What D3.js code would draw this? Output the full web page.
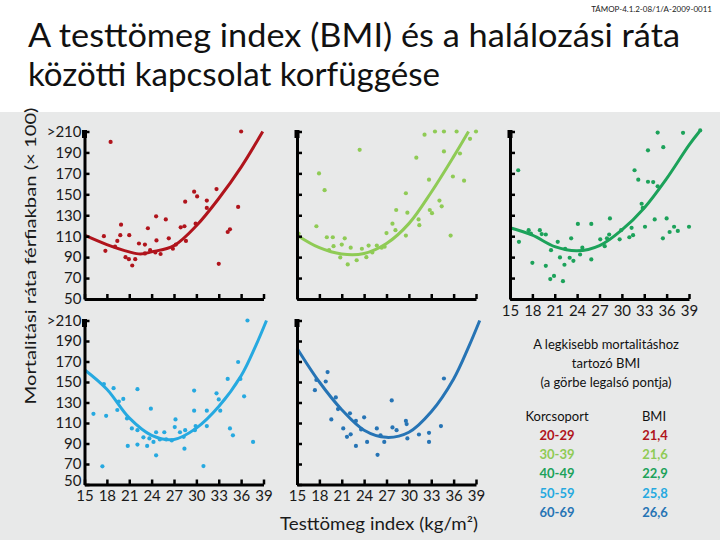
<!DOCTYPE html>
<html>
  <head>
    <meta charset="utf-8">
    <script src="https://d3js.org/d3.v7.min.js"></script>
    <title>BMI és halálozási ráta</title>
    <style>
      body { margin: 0; background: #fff; }
      svg text { font-family: Lato, "Open Sans", sans-serif; }
      .axis .domain { stroke: #000; stroke-width: 3; }
      .axis .tick line { stroke: #000; stroke-width: 2.5; }
      .axis .tick text { font-size: 15px; fill: #1a1a1a; }
    </style>
  </head>
  <body>
    <svg width="720" height="540"></svg>
    <script>
      // age groups and the BMI at the lowest point of each curve
      const groups = ['20-29', '30-39', '40-49', '50-59', '60-69'];
      const minBmi = ['21,4', '21,6', '22,9', '25,8', '26,6'];
      const colors = ['#b0141c', '#8fcb55', '#1ca25a', '#26a9e0', '#2674b5'];

      const xTicks = [15, 18, 21, 24, 27, 30, 33, 36, 39];
      const yTicks = [50, 70, 90, 110, 130, 150, 170, 190, 210];
      const yTickLabels = ['50', '70', '90', '110', '130', '150', '170', '190', '>210'];

      // scatter points [BMI, mortality] (>210 shown at 210)
      const pts2029 = [[18.5,200],[36.0,210],[17.6,110],[17.8,96],[19.1,100],[19.4,105.5],[19.8,111],[19.9,121],
        [20.5,90],[21.0,111],[20.95,88],[21.4,82],[21.8,88],[22.3,103],[23.1,102],[23.1,93.5],[23.5,117.6],
        [23.8,96.6],[24.6,129],[24.65,106],[24.5,94.5],[25.2,93],[25.9,126],[26.3,108],[26.85,98],[27.25,102],
        [27.9,118.5],[28.4,119.5],[28.5,143],[28.6,105.5],[29.7,152.5],[30.1,148],[29.9,122],[31.4,144],
        [31.4,137],[32.7,155],[33.0,83.6],[34.2,114],[34.5,116.6],[35.6,138]];
      const pts3039 = [[17.95,170],[18.7,154],[17.6,119.5],[23.4,192.5],[19.0,109],[19.8,109],[19.9,100.5],
        [19.3,96.6],[21.0,102],[21.4,108],[20.8,89.7],[21.8,83],[22.2,99],[23.0,87],[23.7,98],[24.3,90],
        [24.6,101],[25.1,94.5],[25.7,101],[26.35,99],[26.75,100],[27.0,113],[27.8,122],[28.3,135],[28.2,115.7],
        [29.6,110.6],[29.6,151],[29.8,132.5],[31.0,185],[31.3,126],[31.4,120.5],[32.1,207],[32.7,164],
        [32.8,135],[33.1,132],[33.5,210],[34.1,144],[34.4,138.5],[34.7,210],[34.7,191],[35.6,110.6],
        [35.9,167],[36.4,210],[36.85,189],[37.4,163],[38.2,203],[39.0,210],[15.2,112.5]];
      const pts4049 = [[16.1,173],[16.2,104.6],[17.5,115.7],[17.8,112.5],[18.0,84.6],[19.0,115.7],[19.25,112],
        [19.8,111.6],[19.8,81.7],[20.4,69],[20.9,72],[20.5,96.6],[21.4,104.6],[21.7,89.7],[22.1,67],[22.3,82.7],
        [22.4,98],[23.0,89.4],[23.2,108],[23.5,86.5],[24.1,121.7],[24.4,92.5],[24.7,99],[25.9,121.7],[25.9,87.8],
        [27.1,107],[27.7,100.5],[28.0,108],[28.3,111.6],[28.4,127],[29.7,107],[29.9,115.7],[31.0,109],[31.3,118],
        [31.5,111],[31.7,173],[32.2,164],[32.65,141],[32.8,137],[33.1,119],[33.5,192],[33.5,162],[34.2,161.7],
        [34.4,126],[34.8,157.6],[34.8,209],[35.5,108],[35.55,195],[36.0,127],[36.4,114],[37.0,119],[37.5,115],
        [38.2,208.7],[39.0,119],[40.5,211]];
      const pts5059 = [[36.85,210],[16.2,119],[17.6,148],[17.9,117],[17.4,67.7],[18.9,144],[19.6,131],[19.4,122.7],
        [20.2,133.5],[20.7,114.5],[20.8,87.6],[21.35,104.7],[22.1,143],[22.1,89],[22.1,103],[22.9,96],[23.4,87.6],
        [23.9,124],[23.7,95],[24.25,91.5],[24.6,101],[24.6,78.5],[25.1,94],[25.7,101],[25.95,94],[26.7,93],
        [27.2,113.5],[27.1,106],[27.8,101],[28.3,96.5],[28.4,85],[28.5,103],[29.7,122],[29.7,141.6],[29.8,103],
        [29.9,107],[30.95,68],[31.4,122],[31.4,107],[32.7,139],[33.0,133],[33.2,122],[34.2,153],[34.5,104.7],
        [34.9,98],[35.6,169.5],[35.9,153],[36.4,136],[37.6,91.5]];
      const pts6069 = [[17.4,142],[17.6,152],[18.85,150.5],[19.1,159.7],[20.2,135],[20.5,123.6],[19.6,113.5],
        [21.2,104.7],[21.7,96.5],[22.1,119.4],[22.2,99],[22.9,112],[22.9,87.6],[23.6,103.7],[24.0,115.5],
        [24.4,91.5],[25.7,104.7],[25.8,79],[26.2,98],[26.7,91.5],[27.7,132],[27.8,105.7],[28.35,103],[29.6,112],
        [29.7,109],[29.8,95],[31.35,98.8],[32.7,100.4],[32.7,91.5],[34.3,107],[34.7,153.4]];

      // fitted curves, values read at the ticks
      const fit2029 = [[15,111],[18,102],[21,95],[22.5,93],[24,95],[27,101],[30,120],[33,146],[36,176],[38.9,210]];
      const fit3039 = [[15,111],[18,99],[21,93],[24,93.5],[27,103],[30,122],[33,152],[36,186],[38,210]];
      const fit4049 = [[15,118],[18,111],[21,100],[24,96],[27,101],[30,116],[33,137],[36,165],[39,197],[40.4,210]];
      const fit5059 = [[15,162],[18,143],[21,115],[24,98],[27,94],[30,105],[33,126],[36,156],[38,186],[39.4,210]];
      const fit6069 = [[15,183],[18,150],[21,123],[24,103],[27,96],[30,101],[33,121],[36,153],[38,184],[39.5,210]];

      const points = [pts2029, pts3039, pts4049, pts5059, pts6069];
      const fits = [fit2029, fit3039, fit4049, fit5059, fit6069];

      const svg = d3.select('svg');

      // background: white header, grey body
      svg.append('rect').attr('x', 0).attr('y', 0).attr('width', 720).attr('height', 540).attr('fill', '#fff');
      svg.append('rect').attr('x', 0).attr('y', 112).attr('width', 720).attr('height', 428).attr('fill', '#e8e9e9');

      // title
      svg.append('text').attr('x', 712).attr('y', 12).attr('text-anchor', 'end')
        .style('font-size', '8px').attr('fill', '#222').text('TÁMOP-4.1.2-08/1/A-2009-0011');
      const titleLines = ['A testtömeg index (BMI) és a halálozási ráta', 'közötti kapcsolat korfüggése'];
      const titleWidths = [652, 412];
      titleLines.forEach((t, i) => {
        svg.append('text').attr('x', 28).attr('y', 47 + i * 38.5)
          .attr('textLength', titleWidths[i]).attr('lengthAdjust', 'spacingAndGlyphs')
          .style('font-size', '32px').attr('fill', '#111').text(t);
      });

      // panel layout
      const colX = [84.5, 297, 510];
      const rows = [{ bottom: 299, top: 131.5 }, { bottom: 484.5, top: 320.5 }];
      const panels = [
        { col: 0, row: 0, yLab: true, xLab: false },
        { col: 1, row: 0, yLab: false, xLab: false },
        { col: 2, row: 0, yLab: false, xLab: true },
        { col: 0, row: 1, yLab: true, xLab: true },
        { col: 1, row: 1, yLab: false, xLab: true }
      ];

      panels.forEach((p, i) => {
        const x0 = colX[p.col];
        const r = rows[p.row];
        const x = d3.scaleLinear().domain([15, 39]).range([x0, x0 + 179]);
        const y = d3.scaleLinear().domain([50, 210]).range([r.bottom, r.top]);
        const g = svg.append('g');

        // fitted curve
        g.append('path').datum(fits[i])
          .attr('fill', 'none').attr('stroke', colors[i]).attr('stroke-width', 3)
          .attr('d', d3.line().x(d => x(d[0])).y(d => y(d[1])).curve(d3.curveCatmullRom.alpha(0.5)));

        // points
        g.selectAll('circle').data(points[i]).enter().append('circle')
          .attr('cx', d => x(d[0])).attr('cy', d => y(d[1]))
          .attr('r', 2.1).attr('fill', colors[i]);

        // axes
        const xAxis = d3.axisBottom(x).tickValues(xTicks).tickSize(-5).tickSizeOuter(0).tickPadding(6)
          .tickFormat(p.xLab ? d3.format('d') : '');
        g.append('g').attr('class', 'axis').attr('transform', `translate(0,${r.bottom})`).call(xAxis);

        const yAxis = d3.axisLeft(y).tickValues(yTicks).tickSize(-5).tickSizeOuter(0).tickPadding(3)
          .tickFormat(p.yLab ? (d, k) => yTickLabels[k] : '');
        const yg = g.append('g').attr('class', 'axis').attr('transform', `translate(${x0},0)`).call(yAxis);
        // lift the bottom "50" so it does not sit on the "15" below it
        if (p.xLab) yg.selectAll('.tick text').filter(d => d === 50).attr('y', -4);

        // small block at the top of the y axis
        g.append('rect').attr('x', x0 - 2.5).attr('y', r.top - 1.5).attr('width', 5).attr('height', 8).attr('fill', '#000');
      });

      // axis titles
      svg.append('text').attr('transform', 'translate(36,256) rotate(-90)').attr('text-anchor', 'middle')
        .attr('textLength', 297).attr('lengthAdjust', 'spacingAndGlyphs')
        .style('font-size', '15px').attr('fill', '#1a1a1a').text('Mortalitási ráta férfiakban (× 100)');
      svg.append('text').attr('x', 379).attr('y', 530).attr('text-anchor', 'middle')
        .attr('textLength', 198).attr('lengthAdjust', 'spacingAndGlyphs')
        .style('font-size', '17px').attr('fill', '#1a1a1a').text('Testtömeg index (kg/m²)');

      // side note
      const note = ['A legkisebb mortalitáshoz', 'tartozó BMI', '(a görbe legalsó pontja)'];
      svg.selectAll('.note').data(note).enter().append('text')
        .attr('x', 606).attr('y', (d, i) => 349 + i * 19).attr('text-anchor', 'middle')
        .style('font-size', '13px').attr('fill', '#111').text(d => d);

      svg.append('text').attr('x', 557).attr('y', 421).attr('text-anchor', 'middle')
        .style('font-size', '13px').attr('fill', '#111').text('Korcsoport');
      svg.append('text').attr('x', 654).attr('y', 421).attr('text-anchor', 'middle')
        .style('font-size', '13px').attr('fill', '#111').text('BMI');

      const tbl = svg.append('g');
      groups.forEach((gname, i) => {
        tbl.append('text').attr('x', 557).attr('y', 440 + i * 19.2).attr('text-anchor', 'middle')
          .style('font-size', '13px').style('font-weight', 'bold').attr('fill', colors[i]).text(gname);
        tbl.append('text').attr('x', 655).attr('y', 440 + i * 19.2).attr('text-anchor', 'middle')
          .style('font-size', '13px').style('font-weight', 'bold').attr('fill', colors[i]).text(minBmi[i]);
      });
    </script>
  </body>
</html>
